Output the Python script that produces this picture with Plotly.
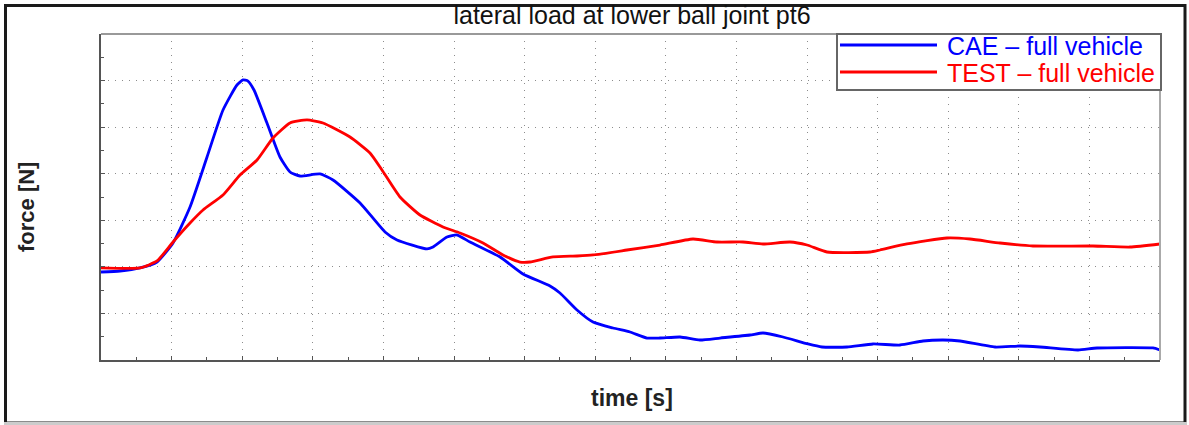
import plotly.graph_objects as go

# time axis in grid units (0..15), force in grid units (0..7); no tick labels shown
cae_t = [0.000, 0.269, 0.552, 0.793, 1.020, 1.261, 1.502, 1.728, 1.926, 2.011, 2.082, 2.167,
         2.351, 2.535, 2.677, 2.819, 3.102, 3.286, 3.669, 4.023, 4.193, 4.618, 4.703, 4.901,
         5.042, 5.227, 5.652, 5.977, 6.360, 6.501, 6.742, 6.969, 7.252, 7.493, 7.734, 7.918,
         8.201, 8.484, 8.768, 9.193, 9.377, 9.660, 10.014, 10.212, 10.567, 10.935, 11.317,
         11.643, 11.926, 12.167, 12.663, 13.017, 13.300, 13.839, 14.108, 14.901, 15.000]
cae_f = [1.890, 1.911, 1.976, 2.104, 2.512, 3.285, 4.359, 5.368, 5.905, 6.013, 5.990, 5.798,
         5.089, 4.359, 4.037, 3.951, 3.994, 3.865, 3.372, 2.749, 2.577, 2.384, 2.426, 2.641,
         2.684, 2.534, 2.212, 1.847, 1.589, 1.439, 1.074, 0.816, 0.687, 0.601, 0.472, 0.472,
         0.494, 0.429, 0.472, 0.537, 0.580, 0.494, 0.344, 0.279, 0.279, 0.344, 0.322,
         0.408, 0.429, 0.408, 0.279, 0.301, 0.279, 0.215, 0.258, 0.258, 0.215]

test_t = [0.000, 0.552, 0.793, 1.020, 1.261, 1.445, 1.728, 1.969, 2.210, 2.436, 2.677, 2.918,
          3.144, 3.527, 3.810, 3.980, 4.235, 4.518, 4.844, 5.085, 5.411, 5.694, 5.935, 6.076,
          6.402, 6.742, 6.969, 7.450, 7.918, 8.385, 8.725, 9.093, 9.377, 9.759, 10.000,
          10.283, 10.892, 11.034, 11.416, 11.983, 12.309, 12.734, 13.201, 14.051, 14.575, 15.000]
test_f = [1.976, 1.976, 2.126, 2.534, 2.942, 3.221, 3.543, 3.972, 4.295, 4.767, 5.089, 5.154,
          5.089, 4.788, 4.445, 4.080, 3.500, 3.114, 2.856, 2.727, 2.512, 2.255, 2.104, 2.104,
          2.212, 2.233, 2.255, 2.362, 2.469, 2.598, 2.534, 2.534, 2.491, 2.534, 2.469,
          2.319, 2.319, 2.362, 2.491, 2.620, 2.598, 2.512, 2.448, 2.448, 2.426, 2.491]

title_text = "lateral load at lower ball joint pt6"
x_title = "time [s]"
y_title = "force [N]"
cae_name = "CAE \u2013 full vehicle"
test_name = "TEST \u2013 full vehicle"
cae_color = "#0000ff"
test_color = "#ff0000"

FONT = "Liberation Sans, Arial, sans-serif"

fig = go.Figure()
fig.add_trace(go.Scatter(x=cae_t, y=cae_f, mode="lines", name=cae_name,
                         line=dict(color=cae_color, width=2.8, shape="spline", smoothing=0.5)))
fig.add_trace(go.Scatter(x=test_t, y=test_f, mode="lines", name=test_name,
                         line=dict(color=test_color, width=2.8, shape="spline", smoothing=0.5)))

W, H = 1189, 425
L, R, T, B = 101, 29, 34, 65
pw, ph = W - L - R, H - T - B

def px(x):
    return (x - L) / pw

def py(y):
    return (H - B - y) / ph

axis_common = dict(showticklabels=False, showgrid=True, gridcolor="#8c8c8c", gridwidth=1,
                   griddash="1px,6px", zeroline=False, showline=True, linecolor="#555555",
                   linewidth=2, ticks="inside", ticklen=4, tickcolor="#555555", tickwidth=1,
                   dtick=1, tick0=0,
                   minor=dict(dtick=0.5, ticks="inside", ticklen=3, tickcolor="#555555",
                              showgrid=False))

fig.update_xaxes(range=[0, 15], **axis_common)
fig.update_yaxes(range=[0, 7], **axis_common)

shapes = [
    dict(type="line", xref="paper", yref="paper", x0=0, x1=1, y0=1, y1=1,
         line=dict(color="#999999", width=2)),
    dict(type="line", xref="paper", yref="paper", x0=1, x1=1, y0=0, y1=1,
         line=dict(color="#aaaaaa", width=2)),
    # outer frame
    dict(type="rect", xref="paper", yref="paper", x0=px(5.5), x1=px(1185), y0=py(423), y1=py(5.5),
         line=dict(color="#1a1a1a", width=3), fillcolor="rgba(0,0,0,0)", layer="above"),
    dict(type="line", xref="paper", yref="paper", x0=px(4), x1=px(1187), y0=py(423.5), y1=py(423.5),
         line=dict(color="#cccccc", width=3), layer="above"),
    # legend box and samples
    dict(type="rect", xref="paper", yref="paper", x0=px(837), x1=px(1161), y0=py(90), y1=py(34),
         fillcolor="white", line=dict(color="#666666", width=2), layer="above"),
    dict(type="line", xref="paper", yref="paper", x0=px(840), x1=px(937), y0=py(45), y1=py(45),
         line=dict(color=cae_color, width=2.8), layer="above"),
    dict(type="line", xref="paper", yref="paper", x0=px(840), x1=px(937), y0=py(72), y1=py(72),
         line=dict(color=test_color, width=2.8), layer="above"),
]

annotations = [
    dict(text="<b>" + x_title + "</b>", xref="paper", yref="paper", x=px(632), y=py(398),
         showarrow=False, font=dict(family=FONT, size=23, color="#222222"),
         xanchor="center", yanchor="middle"),
    dict(text="<b>" + y_title + "</b>", xref="paper", yref="paper", x=px(26), y=py(207),
         textangle=-90, showarrow=False, font=dict(family=FONT, size=22, color="#222222"),
         xanchor="center", yanchor="middle"),
    dict(text=cae_name, xref="paper", yref="paper", x=px(945), y=py(46),
         showarrow=False, font=dict(family=FONT, size=25, color=cae_color),
         xanchor="left", yanchor="middle"),
    dict(text=test_name, xref="paper", yref="paper", x=px(945), y=py(73),
         showarrow=False, font=dict(family=FONT, size=25, color=test_color),
         xanchor="left", yanchor="middle"),
]

fig.update_layout(
    width=W, height=H,
    margin=dict(l=L, r=R, t=T, b=B, autoexpand=False),
    paper_bgcolor="white", plot_bgcolor="white",
    title=dict(text=title_text, x=px(632), xref="paper", xanchor="center",
               y=1 - 15 / H, yref="container", yanchor="middle",
               font=dict(family=FONT, size=25, color="#111111")),
    showlegend=False,
    shapes=shapes,
    annotations=annotations,
)

fig.write_html("out.html", config={"displayModeBar": False},
               post_script="document.body.style.margin='0';document.body.style.padding='0';"
                           "document.documentElement.style.overflow='hidden';window.scrollTo(0,0);")
